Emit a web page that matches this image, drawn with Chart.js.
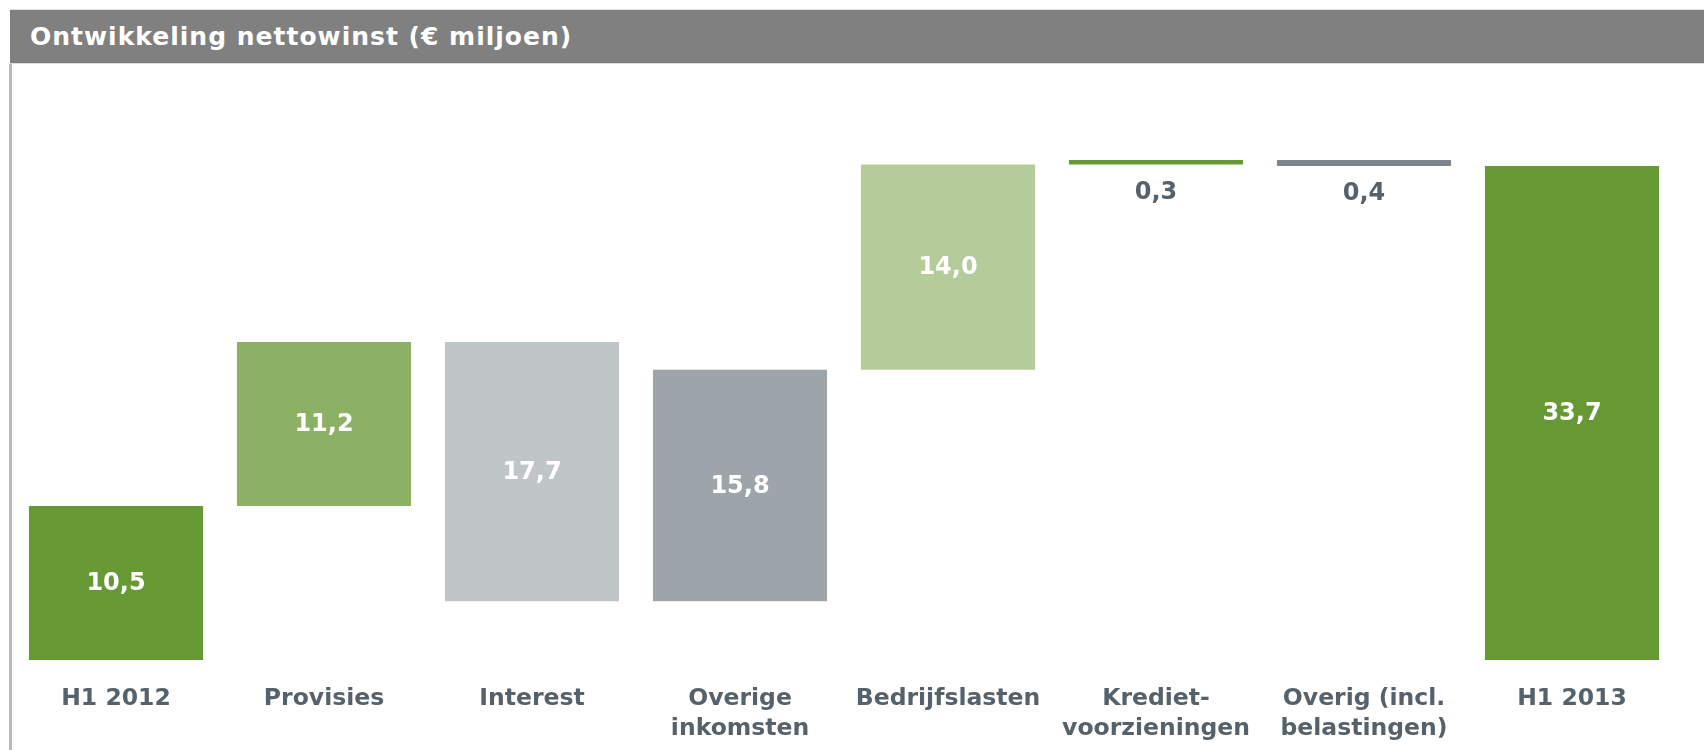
<!DOCTYPE html>
<html>
<head>
<meta charset="utf-8">
<script src="https://cdn.jsdelivr.net/npm/chart.js@4.4.1/dist/chart.umd.min.js"></script>
<style>
  html, body { margin: 0; padding: 0; background: #fff; }
  body { width: 1704px; height: 750px; position: relative; overflow: hidden; }
  #header {
    position: absolute; left: 10px; top: 9px; right: 0; height: 53px;
    background: #808080; border-top: 1px solid #e2e2e2; border-bottom: 1px solid #dcdcdc;
    color: #fff; font-family: 'DejaVu Sans', sans-serif;
    font-weight: bold; font-size: 25px; letter-spacing: 1px; line-height: 53px; padding-left: 20px;
  }
  #leftline { position: absolute; left: 9px; top: 64px; width: 3px; bottom: 0; background: #b5bcc0; }
  #wrap { position: absolute; left: 0; top: 0; width: 1704px; height: 750px; }
</style>
</head>
<body>
<div id="header">Ontwikkeling nettowinst (€ miljoen)</div>
<div id="leftline"></div>
<div id="wrap"><canvas id="myChart" width="1704" height="750"></canvas></div>
<script>
// categories (multi-line labels)
const categories = [
  ['H1 2012'], ['Provisies'], ['Interest'], ['Overige', 'inkomsten'], ['Bedrijfslasten'],
  ['Krediet-', 'voorzieningen'], ['Overig (incl.', 'belastingen)'], ['H1 2013']
];
// waterfall: where each bar starts and ends (€ miljoen)
const barStart = [0, 10.5, 21.7, 4.0, 19.8, 33.8, 34.1, 0];
const barEnd = [10.5, 21.7, 4.0, 19.8, 33.8, 34.1, 33.7, 33.7];
const valueLabels = ['10,5', '11,2', '17,7', '15,8', '14,0', '0,3', '0,4', '33,7'];
const barColors = ['#669933', '#8db164', '#c0c5c7', '#9ea5aa', '#b3cc99', '#669933', '#7c868c', '#669933'];

const labelFont = "'DejaVu Sans', sans-serif";
const slate = '#55626b';

// draws the value on each bar (below the bar when it is too thin)
const barValues = {
  id: 'barValues',
  afterDatasetsDraw(chart) {
    const ctx = chart.ctx;
    const meta = chart.getDatasetMeta(0);
    ctx.save();
    ctx.font = 'bold 24px ' + labelFont;
    ctx.textAlign = 'center';
    ctx.textBaseline = 'middle';
    meta.data.forEach(function (bar, i) {
      const top = Math.min(bar.y, bar.base);
      const bottom = Math.max(bar.y, bar.base);
      if (bottom - top < 30) {
        ctx.fillStyle = slate;
        ctx.fillText(valueLabels[i], bar.x, bottom + 28);
      } else {
        ctx.fillStyle = '#ffffff';
        ctx.fillText(valueLabels[i], bar.x, (top + bottom) / 2 + 1);
      }
    });
    ctx.restore();
  }
};

var ctx = document.getElementById('myChart').getContext('2d');
var myChart = new Chart(ctx, {
  type: 'bar',
  data: {
    labels: categories,
    datasets: [{
      data: barStart.map(function (s, i) { return [s, barEnd[i]]; }),
      backgroundColor: barColors,
      borderWidth: 0,
      barPercentage: 0.837,
      categoryPercentage: 1
    }]
  },
  options: {
    responsive: false,
    animation: false,
    layout: { padding: { left: 12, right: 28, top: 73.6, bottom: 0 } },
    plugins: {
      legend: { display: false },
      tooltip: { enabled: false }
    },
    scales: {
      x: {
        grid: { display: false },
        border: { display: false },
        ticks: {
          color: slate,
          padding: 16,
          maxRotation: 0,
          autoSkip: false,
          font: { family: labelFont, size: 23.5, weight: 'bold', lineHeight: 1.28 }
        },
        afterFit: function (scale) { scale.height = 90; }
      },
      y: {
        display: false,
        min: 0,
        max: 40
      }
    }
  },
  plugins: [barValues]
});
</script>
</body>
</html>
